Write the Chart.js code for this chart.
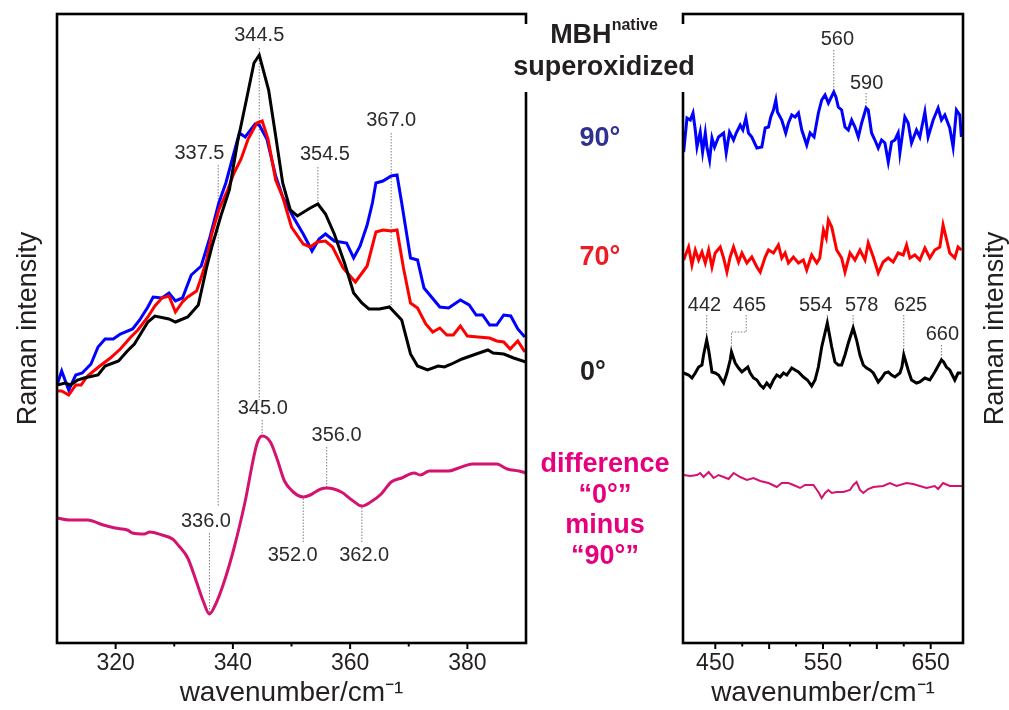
<!DOCTYPE html>
<html>
<head>
<meta charset="utf-8">
<title>Raman spectra MBH native superoxidized</title>
<script src="https://cdn.jsdelivr.net/npm/chart.js@4.4.0/dist/chart.umd.min.js"></script>
<style>
  body { margin: 0; background: #fff; }
  #page { position: relative; width: 1009px; height: 710px; overflow: hidden; font-family: "Liberation Sans", Arial, sans-serif; }
  #lowWrap { position: absolute; left: 0; top: 0; }
  #highWrap { position: absolute; left: 560px; top: 0; }
  #tagBox { position: absolute; left: 512px; top: 24px; width: 184px; height: 68px; background: #fff; }
  .tag { position: absolute; width: 300px; text-align: center; font-weight: bold; font-size: 27px; white-space: nowrap; }
  .tag sup { font-size: 16px; vertical-align: 0; position: relative; top: -13px; }
</style>
</head>
<body>
<div id="page">
  <div id="lowWrap"><canvas id="lowRange" width="560" height="710"></canvas></div>
  <div id="highWrap"><canvas id="highRange" width="449" height="710"></canvas></div>
  <div id="tagBox"></div>
  <div class="tag" style="left:454px;top:17px;line-height:34px;color:#231f20">MBH<sup>native</sup></div>
  <div class="tag" style="left:454px;top:49px;line-height:34px;color:#231f20">superoxidized</div>
  <div class="tag" style="left:450px;top:120px;line-height:34px;color:#2e3192">90°</div>
  <div class="tag" style="left:450px;top:239px;line-height:34px;color:#ec1c24">70°</div>
  <div class="tag" style="left:443px;top:354px;line-height:34px;color:#231f20">0°</div>
  <div class="tag" style="left:455px;top:446px;line-height:34px;color:#e6007e">difference</div>
  <div class="tag" style="left:455px;top:477px;line-height:34px;color:#e6007e">“0°”</div>
  <div class="tag" style="left:455px;top:507px;line-height:34px;color:#e6007e">minus</div>
  <div class="tag" style="left:455px;top:538px;line-height:34px;color:#e6007e">“90°”</div>
</div>
<script>
// 310-390 cm-1 region, polarisation 0°, 70°, 90° and the 0° minus 90° difference
const low0Wn = [310, 311.4, 312.3, 313.5, 314.6, 317, 318.2, 320.5, 322, 323.2, 325.5, 326.7, 329.1, 330.2, 332.3, 334.1, 335.5, 336.5, 338, 339.4, 340.8, 342.3, 343.6, 344.5, 346.1, 347.3, 348.5, 349.8, 351, 353.2, 354.5, 355.8, 357.3, 359.1, 360.6, 362, 363.2, 365, 366.7, 368.8, 370.3, 371.5, 373.2, 375, 376.1, 377.3, 379.1, 381.5, 383.5, 384.4, 386.2, 387.9, 390];
const low0Int = [258, 260, 258, 263, 265, 268, 277, 282, 292, 299, 321, 327, 324, 321, 326, 338, 375, 398, 428, 453, 501, 543, 580, 588, 553, 507, 460, 433, 427, 435, 439, 429, 409, 379, 350, 340, 334, 334, 336, 323, 289, 277, 273, 277, 276, 279, 284, 289, 293, 290, 289, 285, 281];

const low70Wn = [310, 310.8, 312, 313.2, 314.1, 315.2, 317.3, 319.1, 320.8, 322.6, 323.8, 325.5, 326.7, 327.9, 329.1, 330.2, 331.4, 332.3, 333.8, 334.4, 335.5, 336.4, 337.6, 339.1, 340.2, 341.4, 342.6, 344.1, 345, 346, 347.3, 348.5, 350, 352, 353.2, 354.4, 355.8, 357, 358.8, 360.9, 362.9, 364.4, 365.6, 367, 368, 369.1, 370.3, 371.5, 372.9, 374.1, 375.3, 376.5, 377.6, 378.8, 380, 381.8, 383.8, 385, 386.2, 387.3, 388.6, 389.8];
const low70Int = [252, 252, 248, 258, 258, 267, 277, 285, 294, 306, 313, 326, 337, 345, 347, 331, 341, 346, 352, 362, 382, 409, 433, 453, 470, 484, 504, 520, 522, 504, 463, 446, 416, 399, 396, 401, 402, 396, 375, 361, 377, 411, 413, 412, 413, 375, 340, 335, 319, 311, 315, 308, 308, 317, 307, 306, 305, 302, 301, 294, 302, 291];

const low90Wn = [310, 310.8, 312, 313.2, 314.3, 315.8, 317, 318.2, 319.6, 320.8, 322.9, 324.1, 325.5, 326.4, 327.9, 329.1, 330.2, 331.4, 332.9, 334.6, 336.1, 337.6, 338.8, 341.1, 342.1, 343.8, 344.5, 345.8, 347.3, 348.5, 350.3, 352, 352.9, 353.5, 354.7, 355.8, 357.3, 359.4, 360.6, 361.7, 362.9, 363.8, 364.4, 365.6, 367, 368, 368.8, 370.3, 371.5, 372.6, 375.3, 376.8, 378.8, 380.3, 381.5, 382.6, 383.8, 385, 386.2, 387.4, 388.6, 389.8];
const low90Int = [258, 272, 253, 268, 270, 279, 296, 304, 304, 309, 314, 323, 336, 346, 345, 350, 342, 345, 368, 377, 406, 440, 460, 510, 506, 519, 518, 504, 467, 446, 426, 409, 399, 392, 404, 409, 402, 400, 385, 397, 418, 440, 460, 462, 467, 468, 440, 385, 383, 355, 336, 335, 343, 338, 328, 328, 318, 318, 328, 327, 314, 306];

const lowDiffWn = [310, 312, 315.2, 317.9, 319.9, 322, 322.9, 324.9, 325.8, 327.9, 329.7, 330.8, 332.3, 333.8, 335, 336, 337, 338.5, 340.2, 342, 344.1, 345, 346.4, 347.6, 348.8, 350.3, 352, 353.2, 355, 356, 358.5, 360.3, 362, 363.5, 365.3, 367, 368.8, 370.9, 372, 373.5, 376.8, 378.5, 380.9, 382.6, 385, 386.8, 388.8, 390];
const lowDiffInt = [125, 123, 123, 118, 115, 113, 110, 109, 111, 108, 104, 97, 85, 61, 41, 29, 38, 61, 95, 139, 199, 207, 201, 183, 162, 151, 146, 148, 154, 155, 151, 143, 137, 141, 149, 161, 165, 170, 168, 172, 172, 175, 179, 179, 179, 174, 172, 170];

// 420-680 cm-1 region
const high90Wn = [420.6, 423.7, 426.8, 429.3, 431.4, 433, 436, 438.2, 440.7, 442.2, 444.7, 446.9, 449.3, 453, 457.7, 460.1, 463.2, 466.9, 469.4, 473.1, 475.6, 478.4, 480.8, 483.9, 488.6, 493.2, 496.3, 499.4, 501.5, 504, 506.2, 507.7, 511.7, 515.4, 517.9, 521, 524.1, 527.2, 530.3, 534.9, 538, 541.7, 545.7, 548.8, 551.9, 555, 560, 562, 564.2, 567.3, 570.4, 573.5, 576.6, 579.7, 582.8, 585.9, 590, 592, 595.1, 598.2, 601.3, 604.4, 607.5, 610.6, 613.7, 616.8, 619.8, 621.4, 626, 629.1, 632.2, 636.8, 639.9, 644.6, 647.6, 652.3, 656.9, 660, 663.1, 667.7, 670.8, 673.9, 677, 678.5];
const high90Int = [491, 525, 523, 530, 513, 496, 511, 491, 510, 496, 483, 505, 496, 506, 510, 490, 511, 503, 510, 518, 513, 525, 510, 506, 495, 496, 515, 516, 526, 533, 543, 531, 523, 510, 520, 528, 526, 530, 513, 498, 510, 506, 530, 543, 548, 540, 551, 546, 536, 533, 516, 513, 523, 516, 506, 520, 535, 533, 510, 503, 495, 503, 500, 481, 501, 503, 510, 490, 526, 520, 500, 513, 506, 531, 506, 523, 535, 523, 528, 515, 496, 533, 528, 506];

const high70Wn = [420.6, 425.2, 428.3, 431.4, 434.5, 437.6, 440.7, 443.8, 446.9, 449.9, 454.6, 457.7, 460.8, 463.8, 466.9, 471.6, 474.7, 479.3, 483.9, 488.6, 491.7, 496.3, 499.4, 504, 508.6, 511.7, 514.8, 517.9, 522.5, 527.2, 531.8, 534.9, 539.5, 544.2, 547, 550.4, 553, 555, 558.1, 562.7, 567.3, 570.4, 575.1, 579.7, 584.3, 589, 592, 596.7, 601.3, 605.9, 610.6, 615.2, 619.8, 624.5, 627.6, 630.7, 635.3, 639.9, 644.6, 649.2, 653.8, 658.5, 661.5, 667.7, 672.4, 675.4, 678.5];
const high70Int = [383, 396, 378, 393, 383, 391, 380, 393, 376, 390, 396, 385, 371, 386, 396, 381, 390, 380, 386, 376, 371, 386, 393, 390, 398, 385, 390, 380, 386, 380, 383, 373, 388, 380, 385, 413, 405, 423, 416, 393, 385, 371, 390, 383, 393, 383, 400, 386, 370, 381, 385, 381, 390, 388, 398, 385, 388, 383, 395, 385, 393, 396, 418, 390, 385, 396, 393];

const high0Wn = [420.6, 425.2, 428.3, 431.4, 434.5, 437.6, 439.1, 442, 443.8, 446.9, 449.9, 453, 457.7, 460.8, 463.8, 465, 468.5, 471.6, 474.7, 480.2, 482.4, 485.5, 488.6, 491.7, 494.7, 497.8, 500.9, 504, 507.1, 510.2, 513.3, 516.4, 521, 524.1, 527.2, 531.8, 535.5, 539.5, 542.6, 545.7, 548.8, 554, 558.1, 561.1, 564.2, 567.3, 570.4, 573.5, 578, 581.2, 584.3, 587.4, 590.5, 593.6, 596.7, 601.3, 604.4, 607.5, 610.6, 613.7, 616.8, 621.4, 623.3, 625, 629.1, 632.2, 636.8, 639.9, 644.6, 649.2, 653.8, 660, 662, 664.6, 667.7, 672.4, 675.4, 678.5];
const high0Int = [270, 268, 265, 270, 276, 278, 288, 303, 293, 271, 270, 268, 260, 270, 283, 291, 280, 275, 271, 276, 270, 265, 263, 258, 255, 260, 256, 263, 268, 266, 270, 268, 275, 273, 271, 266, 263, 257, 263, 276, 296, 320, 296, 281, 278, 278, 288, 300, 315, 303, 288, 278, 275, 273, 270, 261, 265, 270, 271, 268, 266, 270, 276, 288, 273, 263, 260, 261, 265, 263, 271, 283, 281, 276, 273, 263, 270, 270];

const highDiffWn = [420.6, 426.8, 433, 436, 439.1, 443.8, 448.4, 453, 457.7, 462.3, 467, 473.1, 479.3, 485.5, 491.7, 499.4, 507.1, 511.7, 517.9, 522.5, 528.7, 533.4, 541.1, 545.7, 548.8, 551.9, 555, 558.1, 562.7, 568.9, 575.1, 578.2, 581.2, 584.3, 587.4, 592, 596.7, 605.9, 612.1, 618.3, 627.6, 633.7, 639.9, 646.1, 653.8, 656.9, 661.5, 667.7, 673.9, 680];
const highDiffInt = [168, 167, 168, 170, 166, 171, 165, 168, 166, 164, 170, 166, 163, 165, 162, 160, 156, 160, 160, 158, 155, 158, 158, 151, 145, 150, 153, 150, 151, 151, 153, 158, 161, 153, 150, 154, 156, 157, 160, 157, 160, 159, 157, 155, 157, 154, 160, 157, 157, 157];

// peak labels: text is the band position; at = label centre, from/to = leader line
const lowPeaks = [
  { text: '344.5', at: [344.5, 608], from: 595, to: 243 },
  { text: '337.5', at: [334.3, 490], from: 478, to: 136 },
  { text: '354.5', at: [355.7, 489], from: 476, to: 438 },
  { text: '367.0', at: [367.0, 523], from: 510, to: 338 },
  { text: '345.0', at: [345.1, 235], from: 223, to: 207 },
  { text: '356.0', at: [357.7, 208], from: 196, to: 155 },
  { text: '336.0', at: [335.4, 122], from: 110, to: 30 },
  { text: '352.0', at: [350.2, 88], from: 101, to: 146 },
  { text: '362.0', at: [362.4, 88], from: 101, to: 137 }
];
const highPeaks = [
  { text: '560', at: [563.3, 604], from: 593, to: 551 },
  { text: '590', at: [590.5, 560], from: 550, to: 535 },
  { text: '442', at: [440.0, 338], from: 328, to: 303 },
  { text: '465', at: [481.7, 338], from: 328, to: 291, stem: 478.7, bend: 311 },
  { text: '554', at: [543.2, 338], from: 328, to: 320 },
  { text: '578', at: [585.9, 338], from: 328, to: 315 },
  { text: '625', at: [631.3, 338], from: 328, to: 288 },
  { text: '660', at: [660.9, 309], from: 298, to: 283 }
];

const FONT = '"Liberation Sans", Arial, sans-serif';
const INK = '#231f20';

function points(wn, intensity) {
  return wn.map((w, i) => ({ x: w, y: intensity[i] }));
}

// frame around the plot area plus major/minor tick marks on the x axis
const framePlugin = {
  id: 'frame',
  afterDraw(chart, args, opts) {
    const { ctx, chartArea: a, scales: { x } } = chart;
    ctx.save();
    ctx.strokeStyle = '#000';
    ctx.lineWidth = 2.6;
    ctx.strokeRect(a.left, a.top, a.right - a.left, a.bottom - a.top);
    ctx.lineWidth = 2;
    x.ticks.forEach(t => {
      if (t.value <= x.min || t.value >= x.max) return;
      const px = x.getPixelForValue(t.value);
      const len = t.value % opts.major === 0 ? 6 : 3.5;
      ctx.beginPath();
      ctx.moveTo(px, a.bottom);
      ctx.lineTo(px, a.bottom + len);
      ctx.stroke();
    });
    if (opts.rightTitle) {
      ctx.fillStyle = INK;
      ctx.font = '27px ' + FONT;
      ctx.textAlign = 'center';
      ctx.textBaseline = 'middle';
      ctx.translate(opts.rightTitle.x, (a.top + a.bottom) / 2);
      ctx.rotate(-Math.PI / 2);
      ctx.fillText(opts.rightTitle.text, 0, 0);
    }
    ctx.restore();
  }
};

// dotted leader lines under the curves, band labels on top
const peakPlugin = {
  id: 'peaks',
  beforeDatasetsDraw(chart, args, opts) {
    const { ctx, scales: { x, y } } = chart;
    ctx.save();
    ctx.strokeStyle = '#7d7d7d';
    ctx.lineWidth = 1;
    ctx.setLineDash([1.5, 1.5]);
    opts.marks.forEach(m => {
      const band = x.getPixelForValue(parseFloat(m.text));
      ctx.beginPath();
      if (m.stem) {
        const sx = x.getPixelForValue(m.stem);
        ctx.moveTo(sx, y.getPixelForValue(m.from));
        ctx.lineTo(sx, y.getPixelForValue(m.bend));
        ctx.lineTo(band, y.getPixelForValue(m.bend));
        ctx.lineTo(band, y.getPixelForValue(m.to));
      } else {
        ctx.moveTo(band, y.getPixelForValue(m.from));
        ctx.lineTo(band, y.getPixelForValue(m.to));
      }
      ctx.stroke();
    });
    ctx.restore();
  },
  afterDatasetsDraw(chart, args, opts) {
    const { ctx, scales: { x, y } } = chart;
    ctx.save();
    ctx.fillStyle = '#2b2b2b';
    ctx.font = '20px ' + FONT;
    ctx.textAlign = 'center';
    ctx.textBaseline = 'middle';
    opts.marks.forEach(m => {
      ctx.fillText(m.text, x.getPixelForValue(m.at[0]), y.getPixelForValue(m.at[1]));
    });
    ctx.restore();
  }
};

function xAxis(min, max, step, labelled) {
  return {
    type: 'linear',
    min: min,
    max: max,
    afterFit: s => { s.height = 67; },
    ticks: {
      stepSize: step,
      autoSkip: false,
      maxRotation: 0,
      padding: 1,
      color: INK,
      font: { family: FONT, size: 23 },
      callback: v => labelled.includes(v) ? String(v) : ''
    },
    grid: { display: true, drawOnChartArea: false, drawTicks: true, tickLength: 6, color: 'rgba(0,0,0,0)' },
    border: { display: false },
    title: {
      display: true,
      text: 'wavenumber/cm⁻¹',
      color: INK,
      font: { family: FONT, size: 28 },
      padding: { top: 0, bottom: 0 }
    }
  };
}

function line(wn, intensity, color, width, smooth) {
  return {
    data: points(wn, intensity),
    borderColor: color,
    borderWidth: width,
    pointRadius: 0,
    tension: smooth ? 0.4 : 0,
    cubicInterpolationMode: smooth ? 'monotone' : 'default',
    fill: false
  };
}

const lowChart = new Chart(document.getElementById('lowRange'), {
  type: 'line',
  data: {
    datasets: [
      line(low0Wn, low0Int, '#000000', 3),
      line(low70Wn, low70Int, '#ff0000', 3),
      line(low90Wn, low90Int, '#0000ff', 3),
      line(lowDiffWn, lowDiffInt, '#d3136f', 3, true)
    ]
  },
  options: {
    responsive: false,
    animation: false,
    events: [],
    layout: { padding: { left: 0, right: 34, top: 14, bottom: 0 } },
    plugins: {
      legend: { display: false },
      tooltip: { enabled: false },
      frame: { major: 20 },
      peaks: { marks: lowPeaks }
    },
    scales: {
      x: xAxis(310, 390, 10, [320, 340, 360, 380]),
      y: {
        min: 0,
        max: 629,
        afterFit: s => { s.width = 57; },
        ticks: { display: false },
        grid: { display: false },
        border: { display: false },
        title: {
          display: true,
          text: 'Raman intensity',
          color: INK,
          font: { family: FONT, size: 27 },
          padding: { top: 12, bottom: 0 }
        }
      }
    }
  },
  plugins: [framePlugin, peakPlugin]
});

const highChart = new Chart(document.getElementById('highRange'), {
  type: 'line',
  data: {
    datasets: [
      line(high0Wn, high0Int, '#000000', 3),
      line(high70Wn, high70Int, '#ff0000', 3),
      line(high90Wn, high90Int, '#0000ff', 3),
      line(highDiffWn, highDiffInt, '#d3136f', 2)
    ]
  },
  options: {
    responsive: false,
    animation: false,
    events: [],
    layout: { padding: { left: 123, right: 0, top: 14, bottom: 0 } },
    plugins: {
      legend: { display: false },
      tooltip: { enabled: false },
      frame: { major: 50, rightTitle: { text: 'Raman intensity', x: 436 } },
      peaks: { marks: highPeaks }
    },
    scales: {
      x: xAxis(420, 680, 25, [450, 550, 650]),
      y: {
        position: 'right',
        min: 0,
        max: 629,
        afterFit: s => { s.width = 46; },
        ticks: { display: false },
        grid: { display: false },
        border: { display: false }
      }
    }
  },
  plugins: [framePlugin, peakPlugin]
});
</script>
</body>
</html>
